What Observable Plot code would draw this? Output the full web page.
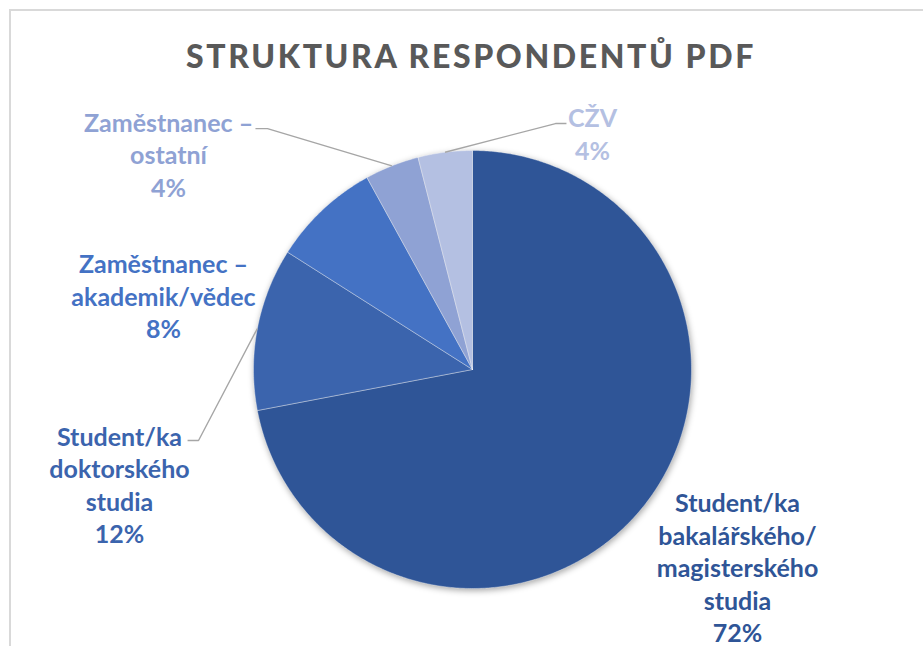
<!DOCTYPE html>
<html><head><meta charset="utf-8">
<script src="https://cdn.jsdelivr.net/npm/d3@7"></script>
<script src="https://cdn.jsdelivr.net/npm/@observablehq/plot@0.6"></script>
<style>
html,body{margin:0;padding:0}
body{width:923px;height:646px;overflow:hidden;background:#fff;position:relative;font-family:Lato,sans-serif}
#frame{position:absolute;left:9px;top:9px;width:2000px;height:2000px;border:2px solid #d9d9d9;box-sizing:border-box}
#chart{position:absolute;left:0;top:0}
#title{position:absolute;left:20px;width:902px;top:36px;line-height:40px;text-align:center;font-size:32px;letter-spacing:2.6px;font-weight:900;color:#595959;font-family:Lato,sans-serif;white-space:nowrap}
</style></head><body>
<div id="frame"></div>
<div id="chart"></div>
<div id="title">STRUKTURA RESPONDENTŮ PDF</div>
<script>
// ---- data ----
const categories = [
  "Student/ka\nbakalářského/\nmagisterského\nstudia",
  "Student/ka\ndoktorského\nstudia",
  "Zaměstnanec –\nakademik/vědec",
  "Zaměstnanec –\nostatní",
  "CŽV"
];
const shares = [72, 12, 8, 4, 4];
const colors = ["#2F5597", "#3B64AD", "#4472C4", "#8FA2D4", "#B4C0E2"];

// ---- layout (in units of pie radius, relative to pie centre) ----
const labelPos = [[1.210, -0.902], [-1.612, -0.523], [-1.411, 0.338], [-1.388, 0.984], [0.548, 1.080]];
const leaderElbow = [null, [-1.251, -0.324], null, [-0.936, 1.100], [0.379, 1.123]];
const leaderEnd = [null, [-1.301, -0.324], null, [-0.991, 1.100], [0.429, 1.123]];

const W = 923, H = 646, CX = 472, CY = 369, R = 219;

const arcs = d3.pie().sort(null).value(d => d)(shares);
const slicePts = [];
arcs.forEach((a, i) => {
  const n = Math.max(2, Math.ceil((a.endAngle - a.startAngle) / (Math.PI / 360)));
  slicePts.push({k: i, x: 0, y: 0, fill: colors[i]});
  for (let j = 0; j <= n; j++) {
    const t = a.startAngle + (a.endAngle - a.startAngle) * j / n;
    slicePts.push({k: i, x: Math.sin(t), y: Math.cos(t), fill: colors[i]});
  }
  slicePts.push({k: i, x: 0, y: 0, fill: colors[i]});
});

const leaderPts = [];
arcs.forEach((a, i) => {
  if (!leaderElbow[i]) return;
  const m = (a.startAngle + a.endAngle) / 2;
  leaderPts.push({k: i, x: Math.sin(m), y: Math.cos(m)});
  leaderPts.push({k: i, x: leaderElbow[i][0], y: leaderElbow[i][1]});
  leaderPts.push({k: i, x: leaderEnd[i][0], y: leaderEnd[i][1]});
});

const labelData = categories.map((c, i) => ({
  x: labelPos[i][0], y: labelPos[i][1],
  text: c + "\n" + shares[i] + "%",
  fill: colors[i]
}));

const plot = Plot.plot({
  width: W, height: H, margin: 0,
  style: {fontFamily: "Lato, sans-serif", background: "transparent", overflow: "visible"},
  x: {axis: null, domain: [-CX / R, (W - CX) / R]},
  y: {axis: null, domain: [-(H - CY) / R, CY / R]},
  color: {type: "identity"},
  marks: [
    Plot.line(slicePts, {x: "x", y: "y", z: "k", fill: "fill", stroke: "white", strokeWidth: 0.6, strokeOpacity: 0.6, curve: "linear"}),
    Plot.line(leaderPts, {x: "x", y: "y", z: "k", stroke: "#A6A6A6", strokeWidth: 1.4, strokeLinecap: "butt", strokeLinejoin: "miter", curve: "linear"}),
    Plot.text(labelData, {x: "x", y: "y", text: "text", fill: "fill", fontSize: 25, fontWeight: "bold", lineHeight: 1.3, fontFamily: "Lato, sans-serif"})
  ]
});
document.getElementById("chart").appendChild(plot);
const g = plot.querySelector('g[aria-label="line"]');
if (g) g.style.filter = "drop-shadow(1px 2px 3px rgba(0,0,0,0.35))";
</script>
</body></html>
